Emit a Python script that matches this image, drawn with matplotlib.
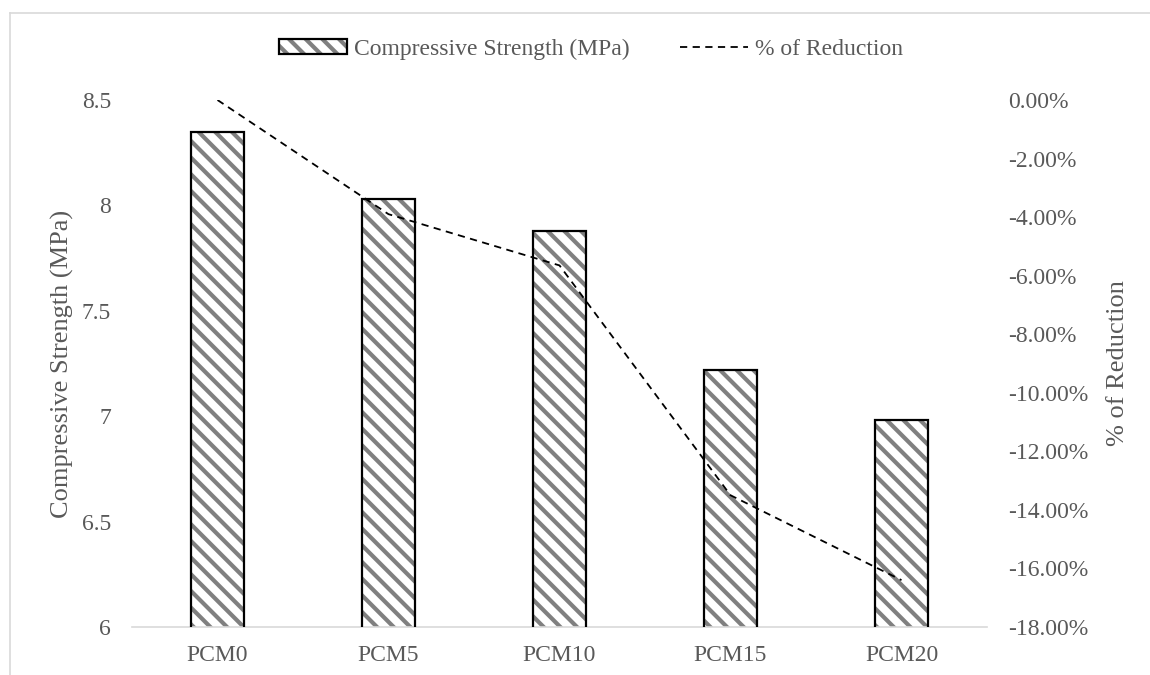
import matplotlib
matplotlib.use("Agg")
import matplotlib.pyplot as plt
import numpy as np
from matplotlib.patches import Patch
from matplotlib.lines import Line2D
from matplotlib.legend_handler import HandlerTuple
from matplotlib.ticker import FuncFormatter, FixedLocator

# ---- data ----
categories = ["PCM0", "PCM5", "PCM10", "PCM15", "PCM20"]
strength = [8.35, 8.03, 7.88, 7.22, 6.98]          # MPa
reduction = [0.0, -0.039, -0.0565, -0.135, -0.164]  # fraction
left_ticks = [6, 6.5, 7, 7.5, 8, 8.5]
right_ticks = [0, -0.02, -0.04, -0.06, -0.08, -0.10, -0.12, -0.14, -0.16, -0.18]

TXT = "#595959"
plt.rcParams["font.family"] = ["Liberation Serif", "DejaVu Serif"]
plt.rcParams["hatch.linewidth"] = 3.0

fig = plt.figure(figsize=(11.5, 6.75), dpi=100)
ax = fig.add_axes([132/1150, 1-627/675, (987-132)/1150, (627-100)/675])
ax2 = ax.twinx()

x = np.arange(len(categories))
width = 0.315
# hatched fill
ax.bar(x, strength, width, color="white", edgecolor="#808080", hatch="\\\\",
       linewidth=0, zorder=2)
# black outline
ax.bar(x, strength, width, fill=False, edgecolor="black", linewidth=1.6, zorder=3)

ax.set_xlim(-0.5, len(categories) - 0.5)
ax.set_ylim(6, 8.5)
ax.yaxis.set_major_locator(FixedLocator(left_ticks))
ax.yaxis.set_major_formatter(FuncFormatter(lambda v, p: f"{v:g}"))
ax.set_xticks(x)
ax.set_xticklabels(categories)
ax.tick_params(axis="x", length=0, pad=13, labelsize=17, labelcolor=TXT)
ax.tick_params(axis="y", length=0, pad=15, labelsize=17, labelcolor=TXT)
for s in ["top", "left", "right"]:
    ax.spines[s].set_visible(False)
ax.spines["bottom"].set_color("#d9d9d9")
ax.spines["bottom"].set_linewidth(1.2)
ax.set_ylabel("Compressive Strength (MPa)", fontsize=19, color=TXT, labelpad=0)
ax.yaxis.set_label_coords((74-132)/855, 0.5)

# dashed line on secondary axis
ax2.plot(x, reduction, color="black", linewidth=1.3, linestyle=(0, (4, 3)),
         zorder=4)

ax2.set_ylim(-0.18, 0)
ax2.yaxis.set_major_locator(FixedLocator(right_ticks))
ax2.yaxis.set_major_formatter(FuncFormatter(
    lambda v, p: "{:.2%}".format(v) if abs(v) > 1e-12 else "0.00%"))
ax2.tick_params(axis="y", length=0, pad=15, labelsize=17, labelcolor=TXT)
for s in ["top", "left", "right", "bottom"]:
    ax2.spines[s].set_visible(False)
ax2.set_ylabel("% of Reduction", fontsize=19, color=TXT, labelpad=0)
ax2.yaxis.set_label_coords((1107-132)/855, 0.5)

# legend
h_fill = Patch(facecolor="white", edgecolor="#808080", hatch="\\\\", linewidth=0)
h_edge = Patch(fill=False, edgecolor="black", linewidth=1.6)
h_line = Line2D([], [], color="black", linewidth=1.3, linestyle=(0, (4, 3)))
leg = fig.legend([(h_fill, h_edge), h_line],
                 ["Compressive Strength (MPa)", "% of Reduction"],
                 handler_map={tuple: HandlerTuple(ndivide=1, pad=0)},
                 loc="center", bbox_to_anchor=(591/1150, 1-49/675), ncol=2,
                 frameon=False, fontsize=17, handlelength=2.9, handleheight=0.6,
                 handletextpad=0.3, columnspacing=2.1, borderpad=0)
for t in leg.get_texts():
    t.set_color(TXT)

# outer chart border (light grey)
fig.add_artist(Line2D([9.5/1150, 9.5/1150], [0, 1-13/675], color="#d9d9d9",
                      linewidth=1.2, transform=fig.transFigure))
fig.add_artist(Line2D([9.5/1150, 1], [1-13/675, 1-13/675], color="#d9d9d9",
                      linewidth=1.2, transform=fig.transFigure))

fig.savefig("out.png", dpi=100)
